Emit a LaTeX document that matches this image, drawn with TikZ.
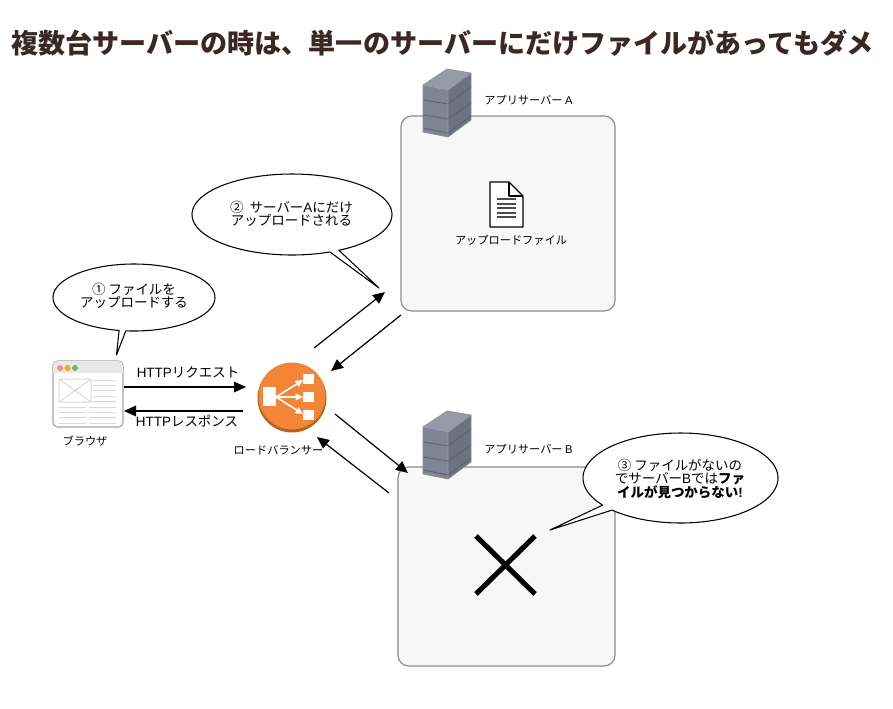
\documentclass[tikz,border=0pt]{standalone}
\usepackage{fontspec}
\setmainfont{Noto Sans CJK JP}
\newfontfamily\lat{Liberation Sans}
\usetikzlibrary{arrows.meta,shapes.geometric}
\definecolor{titlecol}{HTML}{3B2723}
\definecolor{boxfill}{HTML}{F7F7F7}
\definecolor{boxline}{HTML}{8C8C8C}
\definecolor{elborange}{HTML}{F58536}
\definecolor{elbdark}{HTML}{B5611F}
\definecolor{srvfront}{HTML}{7F8595}
\definecolor{srvright}{HTML}{6C7283}
\definecolor{srvtop}{HTML}{979BA8}
\definecolor{srvline}{HTML}{5E626E}
\definecolor{uigray}{HTML}{D9D9D9}
\tikzset{
  x=0.75pt,y=-0.75pt,
  title/.style={font=\bfseries\fontsize{20.3}{22}\selectfont,text=titlecol,inner sep=0pt,anchor=center},
  smalllabel/.style={font=\fontsize{8.4}{9}\selectfont,inner sep=0pt,anchor=center},
  midlabel/.style={font=\fontsize{10.1}{9.8}\selectfont,inner sep=0pt,anchor=center,align=center},
  serverbox/.style={draw=boxline,fill=boxfill,line width=0.9pt,rounded corners=8pt},
  flow/.style={line width=0.9pt,-{Triangle[length=9pt,width=8pt]}},
  bubble/.style={draw=black,fill=white,line width=0.8pt,line join=round},
  serverpic/.pic={
    \fill[srvfront] (0,16)--(25,21)--(25,68)--(0,63)--cycle;
    \fill[srvright] (25,21)--(48,4)--(48,51)--(25,68)--cycle;
    \fill[srvtop] (0,16)--(24,0)--(48,4)--(25,21)--cycle;
    \draw[srvline,line width=0.7pt] (0,31)--(25,35)--(48,18) (0,46)--(25,50)--(48,34) (0,59)--(25,64)--(48,47);
    \draw[srvtop,line width=0.5pt,line join=round] (0,16)--(25,21)--(25,68) (25,21)--(48,4);
    \draw[boxline,line width=0.5pt,line join=round] (0,16)--(0,63)--(25,68)--(48,51)--(48,4)--(24,0)--cycle;
  }
}
\newcommand{\bubblepath}[8]{%
  \draw[bubble] plot[domain=#5:#6,samples=120] ({#1+#3*cos(\x)},{#2+#4*sin(\x)}) -- (#7,#8) -- cycle;}
\begin{document}
\begin{tikzpicture}
\useasboundingbox (0,0) rectangle (893,708);
\fill[white] (0,0) rectangle (893,708);
\node[title] (titletext) at (442.5,43) {複数台サーバーの時は、単一のサーバーにだけファイルがあってもダメ};

% server A
\draw[serverbox] (401,116) rectangle (615,311);
\pic at (423,69) {serverpic};
\node[smalllabel] (labelA) at (528.5,100) {アプリサーバー {\lat A}};
% document icon
\draw[fill=white,line width=1pt,line join=round] (490,182)--(509,182)--(523,196)--(523,227)--(490,227)--cycle;
\draw[line width=0.8pt,line join=round] (509,182)--(509,196)--(523,196);
\draw[line width=0.8pt,black!70] (497,199)--(516,199) (497,204)--(516,204) (497,208)--(516,208) (497,213)--(516,213) (497,217)--(516,217);
\node[smalllabel] (filelabel) at (511,240) {アップロードファイル};

% server B
\draw[serverbox] (398,467) rectangle (615,666);
\pic at (423,411) {serverpic};
\node[smalllabel] (labelB) at (528.5,449) {アプリサーバー {\lat B}};

% cross
\coordinate (x1) at (476,536);
\coordinate (x2) at (535,594);
\coordinate (x3) at (535,536);
\coordinate (x4) at (476,594);
\draw[line width=3.8pt] (x1)--(x2) (x3)--(x4);

% browser
\draw[draw=boxline!80,fill=white,line width=0.9pt,rounded corners=3.5pt] (53,361) rectangle (123,427);
\begin{scope}
\clip[rounded corners=3.5pt] (53,361) rectangle (123,427);
\fill[black!9] (53,361) rectangle (123,373);
\end{scope}
\fill[red!45] (60,368) circle (3);
\fill[orange!65!yellow] (67.5,368) circle (3);
\fill[green!55!black!60] (75,368) circle (3);
\draw[uigray,line width=0.75pt] (59,379) rectangle (91,402) (59,379)--(91,402) (91,379)--(59,402);
\draw[uigray,line width=0.7pt] (93,380)--(116,380) (93,385)--(116,385) (93,390)--(116,390) (93,396)--(116,396) (93,401)--(116,401)
  (59,407)--(86,407) (59,412)--(86,412) (59,417)--(86,417) (59,423)--(86,423)
  (89,407)--(116,407) (89,412)--(116,412) (89,417)--(116,417) (89,423)--(116,423);
\coordinate (browserout) at (124,387);
\coordinate (browserin) at (124,411);
\node[smalllabel] (browserlabel) at (85,441) {ブラウザ};

% load balancer
\fill[elbdark] (292,398) circle (34.5);
\fill[elborange] (292,396) circle (33.5);
\fill[white] (263,387) rectangle (276,406);
\fill[white] (303,374) rectangle (314,384);
\fill[white] (303,392) rectangle (314,402);
\fill[white] (303,410) rectangle (314,420);
\coordinate (lbhub) at (276,397);
\draw[white,line width=1.2pt,-{Triangle[length=5.5pt,width=5pt]}] (lbhub)--(303,380);
\draw[white,line width=1.2pt,-{Triangle[length=5.5pt,width=5pt]}] (lbhub)--(303,397);
\draw[white,line width=1.2pt,-{Triangle[length=5.5pt,width=5pt]}] (lbhub)--(303,414);
\node[smalllabel] (lblabel) at (278.5,450) {ロードバランサー};

% http arrows
\coordinate (lbin) at (246,387);
\coordinate (lbout) at (243,411);
\draw[flow] (browserout)--(lbin);
\draw[flow] (lbout)--(browserin);
\node[midlabel] (httpreq) at (188,372) {{\lat HTTP}リクエスト};
\node[midlabel] (httpres) at (187,421) {{\lat HTTP}レスポンス};

% arrows to servers
\coordinate (a1s) at (314,348);
\coordinate (a1e) at (385,292);
\coordinate (a2s) at (401,315);
\coordinate (a2e) at (331,371);
\coordinate (b1s) at (335,414);
\coordinate (b1e) at (408,473);
\coordinate (b2s) at (389,493);
\coordinate (b2e) at (317,437);
\draw[flow] (a1s)--(a1e);
\draw[flow] (a2s)--(a2e);
\draw[flow] (b1s)--(b1e);
\draw[flow] (b2s)--(b2e);

% callouts
\bubblepath{134}{297.5}{81}{33.5}{100.6}{455.8}{116.5}{355}
\node[midlabel] (note1) at (134,296) {① ファイルを\\アップロードする};
\bubblepath{292}{214.5}{100}{40.5}{67.7}{422}{379}{288}
\node[midlabel] (note2) at (291.5,214) {②\ \ サーバー{\lat A}にだけ\\アップロードされる};
\bubblepath{680.5}{478}{97.5}{45}{143}{494.6}{550}{530}
\node[midlabel] (note3) at (680,479) {③ ファイルがないの\\でサーバー{\lat B}では\textbf{ファ}\\\textbf{イルが見つからない{\lat !}}};
\end{tikzpicture}
\end{document}
